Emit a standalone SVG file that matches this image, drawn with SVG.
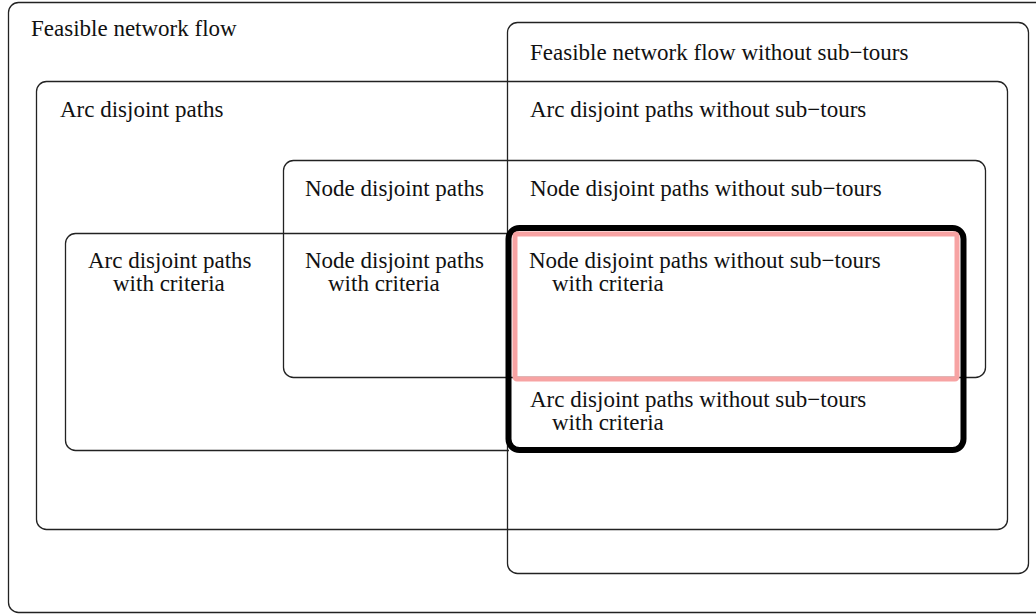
<svg xmlns="http://www.w3.org/2000/svg" width="1036" height="615" viewBox="0 0 1036 615">
<style>
.box{fill:none;stroke:#222;stroke-width:1.3}
.t{font-family:"Liberation Serif","Times New Roman",serif;font-size:23px;fill:#111}
.thick{fill:none;stroke:#000;stroke-width:6}
.pink{fill:none;stroke:#f7a3a3;stroke-width:5}
</style>
<rect width="1036" height="615" fill="#fff"/>
<g id="feasible">
<rect class="box" x="8.5" y="2.5" width="1045" height="610" rx="10"/>
<text class="t" x="31" y="36">Feasible network flow</text>
</g>
<g id="feasible-no-subtours">
<rect class="box" x="507.5" y="22.5" width="521" height="551" rx="10"/>
<text class="t" x="530" y="60">Feasible network flow without sub−tours</text>
</g>
<g id="arc-disjoint">
<rect class="box" x="36.5" y="81.5" width="971" height="448" rx="10"/>
<text class="t" x="60" y="117">Arc disjoint paths</text>
<text class="t" x="530" y="117">Arc disjoint paths without sub−tours</text>
</g>
<g id="node-disjoint">
<rect class="box" x="283.5" y="160.5" width="702" height="217" rx="10"/>
<text class="t" x="305" y="196">Node disjoint paths</text>
<text class="t" x="530" y="196">Node disjoint paths without sub−tours</text>
</g>
<g id="arc-criteria">
<path class="box" d="M509 233.5 H75.5 A10 10 0 0 0 65.5 243.5 V440.5 A10 10 0 0 0 75.5 450.5 H509"/>
<text class="t" x="88" y="268">Arc disjoint paths</text>
<text class="t" x="113" y="291">with criteria</text>
</g>
<g id="node-criteria">
<text class="t" x="305" y="268">Node disjoint paths</text>
<text class="t" x="328" y="291">with criteria</text>
</g>
<g id="arc-no-subtours-criteria">
<rect class="thick" x="508.5" y="228" width="455" height="222" rx="11"/>
<text class="t" x="530" y="407">Arc disjoint paths without sub−tours</text>
<text class="t" x="552" y="430">with criteria</text>
</g>
<g id="node-no-subtours-criteria">
<rect class="pink" x="515" y="234" width="442" height="145" rx="2"/>
<text class="t" x="529" y="268">Node disjoint paths without sub−tours</text>
<text class="t" x="552" y="291">with criteria</text>
</g>
<g id="connectors"></g>
</svg>
